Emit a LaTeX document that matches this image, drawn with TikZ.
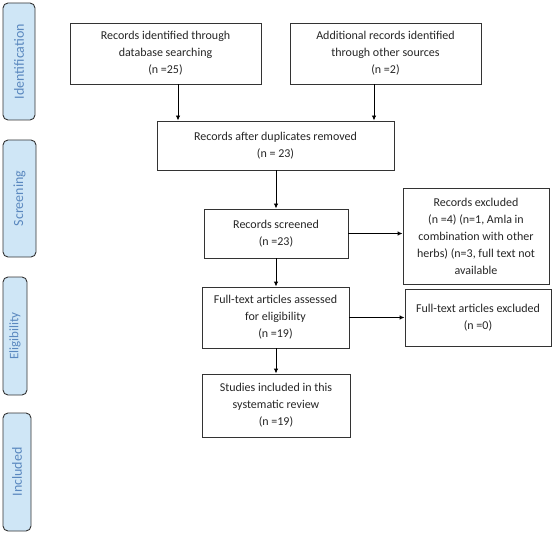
\documentclass[tikz,border=0pt]{standalone}
\usepackage{fontspec}
\setmainfont{Carlito}
\usetikzlibrary{arrows.meta}
\definecolor{sidefill}{HTML}{CFE6F6}
\definecolor{sidetext}{HTML}{5A88BF}
\definecolor{lineclr}{HTML}{333333}
\begin{document}
\begin{tikzpicture}[x=1pt,y=-1pt,
  fbox/.style={draw=lineclr, line width=0.9pt, fill=white, align=center, inner sep=2pt,
    font=\fontsize{12}{17}\selectfont, text=black!85},
  side/.style={draw=lineclr, line width=0.9pt, fill=sidefill, rounded corners=5pt,
    text=sidetext, font=\fontsize{14}{16}\selectfont, inner sep=0pt},
  arr/.style={draw=black, line width=0.9pt, -{Latex[length=5pt,width=4.5pt]}}]
\useasboundingbox (0,0) rectangle (554,540);
% side labels
\node[side, minimum width=32pt, minimum height=117pt] (s1) at (19,61.5) {};
\node[sidetext, rotate=90, font=\fontsize{14}{16}\selectfont] (t1) at (s1) {Identification};
\node[side, minimum width=33pt, minimum height=117pt] (s2) at (19.5,198.5) {};
\node[sidetext, rotate=90, font=\fontsize{14}{16}\selectfont] (t2) at (s2) {Screening};
\node[side, minimum width=24pt, minimum height=118pt] (s3) at (15,336) {};
\node[sidetext, rotate=90, font=\fontsize{13}{16}\selectfont] (t3) at (s3) {Eligibility};
\node[side, minimum width=28pt, minimum height=118pt] (s4) at (17,472) {};
\node[sidetext, rotate=90, font=\fontsize{14}{16}\selectfont] (t4) at (s4) {Included};
% boxes
\node[fbox, minimum width=191pt, minimum height=61pt] (b1) at (165.5,53.5)
  {Records identified through\\database searching\\(n =25)};
\node[fbox, minimum width=191pt, minimum height=61pt] (b2) at (385.5,53.5)
  {Additional records identified\\through other sources\\(n =2)};
\node[fbox, minimum width=237pt, minimum height=49pt] (b3) at (275.5,145.5)
  {Records after duplicates removed\\(n = 23)};
\node[fbox, minimum width=144pt, minimum height=49pt] (b4) at (276,233.5)
  {Records screened\\(n =23)};
\node[fbox, minimum width=146pt, minimum height=96pt] (b5) at (476,236)
  {Records excluded\\(n =4) (n=1, Amla in\\combination with other\\herbs) (n=3, full text not\\available};
\node[fbox, minimum width=147pt, minimum height=61pt] (b6) at (275.5,317.5)
  {Full-text articles assessed\\for eligibility\\(n =19)};
\node[fbox, minimum width=146pt, minimum height=57pt] (b7) at (478,317.5)
  {Full-text articles excluded\\(n =0)};
\node[fbox, minimum width=148pt, minimum height=63pt] (b8) at (276,405.5)
  {Studies included in this\\systematic review\\(n =19)};
% arrows
\coordinate (a1) at (178,0);
\coordinate (a2) at (374,0);
\draw[arr] (b1.south -| a1) -- (b3.north -| a1);
\draw[arr] (b2.south -| a2) -- (b3.north -| a2);
\draw[arr] (b3.south -| b4.north) -- (b4.north);
\draw[arr] (b4.east) -- (b4.east -| b5.west);
\draw[arr] (b4.south) -- (b4.south |- b6.north);
\draw[arr] (b6.east) -- (b6.east -| b7.west);
\draw[arr] (b6.south -| b8.north) -- (b8.north);
\end{tikzpicture}
\end{document}
